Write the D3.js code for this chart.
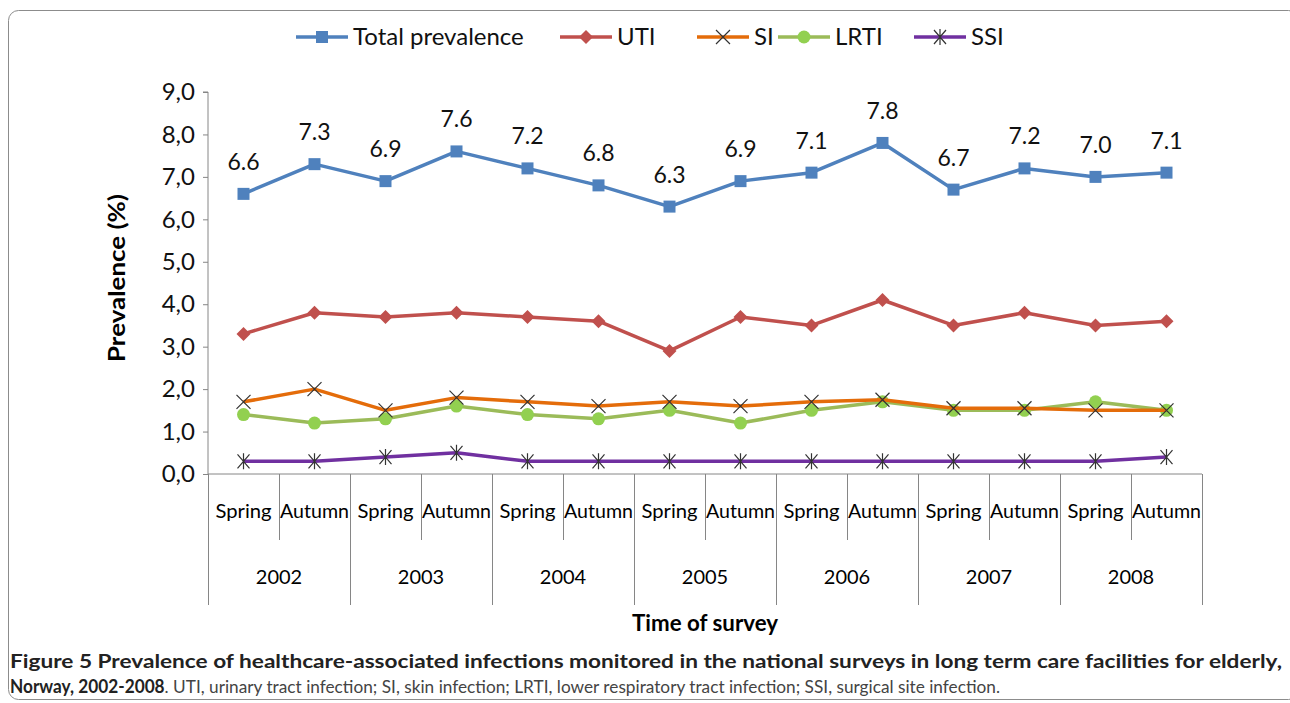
<!DOCTYPE html>
<html>
<head>
<meta charset="utf-8">
<script src="https://cdn.jsdelivr.net/npm/d3@7"></script>
<style>
  body { margin: 0; background: #fff; }
  svg { display: block; }
</style>
</head>
<body>
<div id="chart"></div>
<script>
// data
const seasons = ["Spring", "Autumn"];
const years = ["2002", "2003", "2004", "2005", "2006", "2007", "2008"];
const total = [6.6, 7.3, 6.9, 7.6, 7.2, 6.8, 6.3, 6.9, 7.1, 7.8, 6.7, 7.2, 7.0, 7.1];
const uti = [3.3, 3.8, 3.7, 3.8, 3.7, 3.6, 2.9, 3.7, 3.5, 4.1, 3.5, 3.8, 3.5, 3.6];
const si = [1.7, 2.0, 1.5, 1.8, 1.7, 1.6, 1.7, 1.6, 1.7, 1.75, 1.55, 1.55, 1.5, 1.5];
const lrti = [1.4, 1.2, 1.3, 1.6, 1.4, 1.3, 1.5, 1.2, 1.5, 1.7, 1.5, 1.5, 1.7, 1.5];
const ssi = [0.3, 0.3, 0.4, 0.5, 0.3, 0.3, 0.3, 0.3, 0.3, 0.3, 0.3, 0.3, 0.3, 0.4];
const yTicks = [0, 1, 2, 3, 4, 5, 6, 7, 8, 9];

const W = 1290, H = 703;
const plot = { left: 208, right: 1202, top: 92, bottom: 474 };
const font = "Lato, 'Open Sans', sans-serif";

const categories = [];
years.forEach(y => seasons.forEach(s => categories.push(y + " " + s)));

const series = [
  { name: "Total prevalence", values: total, color: "#4F81BD", marker: "square" },
  { name: "UTI", values: uti, color: "#C0504D", marker: "diamond" },
  { name: "SI", values: si, color: "#E46C0A", marker: "x" },
  { name: "LRTI", values: lrti, color: "#9BBB59", marker: "circle" },
  { name: "SSI", values: ssi, color: "#7030A0", marker: "star" }
];

const svg = d3.select("#chart").append("svg")
  .attr("width", W)
  .attr("height", H)
  .style("font-family", font);

// frame
svg.append("rect")
  .attr("x", 8.5).attr("y", 10.5)
  .attr("width", 1290).attr("height", 689)
  .attr("rx", 10)
  .attr("fill", "none")
  .attr("stroke", "#8c8c8c");

const x = d3.scaleBand().domain(categories).range([plot.left, plot.right]);
const yearScale = d3.scaleBand().domain(years).range([plot.left, plot.right]);
const y = d3.scaleLinear().domain([0, 9]).range([plot.bottom, plot.top]);
const cx = d => x(d) + x.bandwidth() / 2;

// Y axis
const yAxis = d3.axisLeft(y)
  .tickValues(yTicks)
  .tickSize(5)
  .tickPadding(8)
  .tickFormat(d => d3.format(".1f")(d).replace(".", ","));

const gy = svg.append("g")
  .attr("transform", `translate(${plot.left},0)`)
  .call(yAxis);
gy.selectAll("path, line").attr("stroke", "#868686");
gy.select(".domain").attr("d", `M-5,${plot.top}H0V${plot.bottom}`);
gy.selectAll("text")
  .attr("font-size", 24)
  .attr("font-family", font)
  .attr("fill", "#111");

svg.append("text")
  .attr("transform", `translate(125,${(plot.top + plot.bottom) / 2 - 5}) rotate(-90)`)
  .attr("text-anchor", "middle")
  .attr("font-size", 23)
  .attr("font-weight", "bold")
  .attr("textLength", 168)
  .attr("lengthAdjust", "spacingAndGlyphs")
  .text("Prevalence (%)");

// X axis: baseline + multi-level category grid
const gx = svg.append("g");
gx.append("line")
  .attr("x1", plot.left).attr("x2", plot.right)
  .attr("y1", plot.bottom).attr("y2", plot.bottom)
  .attr("stroke", "#868686");

gx.selectAll(".season-tick")
  .data(categories.filter((c, i) => i % 2 === 1))
  .join("line")
  .attr("class", "season-tick")
  .attr("x1", d => Math.round(x(d)) + 0.5)
  .attr("x2", d => Math.round(x(d)) + 0.5)
  .attr("y1", plot.bottom).attr("y2", 540)
  .attr("stroke", "#868686");

gx.selectAll(".year-tick")
  .data(years.concat(["end"]))
  .join("line")
  .attr("class", "year-tick")
  .attr("x1", d => Math.round(d === "end" ? plot.right : yearScale(d)) + 0.5)
  .attr("x2", d => Math.round(d === "end" ? plot.right : yearScale(d)) + 0.5)
  .attr("y1", plot.bottom).attr("y2", 605)
  .attr("stroke", "#868686");

gx.selectAll(".season-label")
  .data(categories)
  .join("text")
  .attr("class", "season-label")
  .attr("x", d => cx(d))
  .attr("y", 518)
  .attr("text-anchor", "middle")
  .attr("font-size", 20)
  .attr("textLength", d => d.endsWith("Spring") ? 56 : 69)
  .attr("lengthAdjust", "spacingAndGlyphs")
  .text(d => d.split(" ")[1]);

gx.selectAll(".year-label")
  .data(years)
  .join("text")
  .attr("class", "year-label")
  .attr("x", d => yearScale(d) + yearScale.bandwidth() / 2)
  .attr("y", 584)
  .attr("text-anchor", "middle")
  .attr("font-size", 20)
  .text(d => d);

svg.append("text")
  .attr("x", (plot.left + plot.right) / 2)
  .attr("y", 631)
  .attr("text-anchor", "middle")
  .attr("font-size", 22)
  .attr("font-weight", "bold")
  .attr("textLength", 146)
  .attr("lengthAdjust", "spacingAndGlyphs")
  .text("Time of survey");

// markers
function drawMarker(g, type, color) {
  if (type === "square") {
    g.append("rect").attr("x", -6).attr("y", -6).attr("width", 12).attr("height", 12).attr("fill", color);
  } else if (type === "diamond") {
    g.append("path").attr("d", "M0,-7L7,0L0,7L-7,0Z").attr("fill", color);
  } else if (type === "circle") {
    g.append("circle").attr("r", 6.5).attr("fill", "#92D050");
  } else if (type === "x") {
    g.append("path").attr("d", "M-7,-7L7,7M-7,7L7,-7").attr("stroke", "#333").attr("stroke-width", 1.2);
  } else if (type === "star") {
    g.append("path").attr("d", "M-6,-7L6,7M-6,7L6,-7M0,-8V8").attr("stroke", "#333").attr("stroke-width", 1.2);
  }
}

const line = d3.line().x((d, i) => cx(categories[i])).y(d => y(d));

// draw bottom series first so total sits on top
series.slice().reverse().forEach(s => {
  const g = svg.append("g");
  g.append("path")
    .datum(s.values)
    .attr("d", line)
    .attr("fill", "none")
    .attr("stroke", s.color)
    .attr("stroke-width", 3.5)
    .attr("stroke-linejoin", "round");
  g.selectAll(".pt")
    .data(s.values)
    .join("g")
    .attr("class", "pt")
    .attr("transform", (d, i) => `translate(${cx(categories[i])},${y(d)})`)
    .each(function () { drawMarker(d3.select(this), s.marker, s.color); });
});

// data labels on total
svg.selectAll(".dlabel")
  .data(total)
  .join("text")
  .attr("class", "dlabel")
  .attr("x", (d, i) => cx(categories[i]))
  .attr("y", d => y(d) - 24)
  .attr("text-anchor", "middle")
  .attr("font-size", 23)
  .attr("fill", "#111")
  .text(d => d3.format(".1f")(d));

// legend
const legendX = [296, 560, 697, 778, 914];
const lg = svg.selectAll(".leg")
  .data(series)
  .join("g")
  .attr("class", "leg")
  .attr("transform", (d, i) => `translate(${legendX[i]},37)`);
lg.append("line")
  .attr("x1", 0).attr("x2", 52)
  .attr("stroke", d => d.color)
  .attr("stroke-width", 3.5);
lg.each(function (d) {
  const m = d3.select(this).append("g").attr("transform", "translate(26,0)");
  drawMarker(m, d.marker, d.color);
});
lg.append("text")
  .attr("x", 57)
  .attr("y", 8)
  .attr("font-size", 24)
  .attr("fill", "#111")
  .text(d => d.name);

// caption
svg.append("text")
  .attr("x", 10).attr("y", 668)
  .attr("font-size", 18)
  .attr("font-weight", "bold")
  .attr("fill", "#222")
  .attr("textLength", 1272)
  .attr("lengthAdjust", "spacingAndGlyphs")
  .text("Figure 5 Prevalence of healthcare-associated infections monitored in the national surveys in long term care facilities for elderly,");

const cap2 = svg.append("text")
  .attr("x", 10).attr("y", 693)
  .attr("font-size", 18)
  .attr("fill", "#444")
  .attr("textLength", 990)
  .attr("lengthAdjust", "spacingAndGlyphs");
cap2.append("tspan").attr("font-weight", "bold").attr("fill", "#222").text("Norway, 2002-2008");
cap2.append("tspan").text(". UTI, urinary tract infection; SI, skin infection; LRTI, lower respiratory tract infection; SSI, surgical site infection.");
</script>
</body>
</html>
